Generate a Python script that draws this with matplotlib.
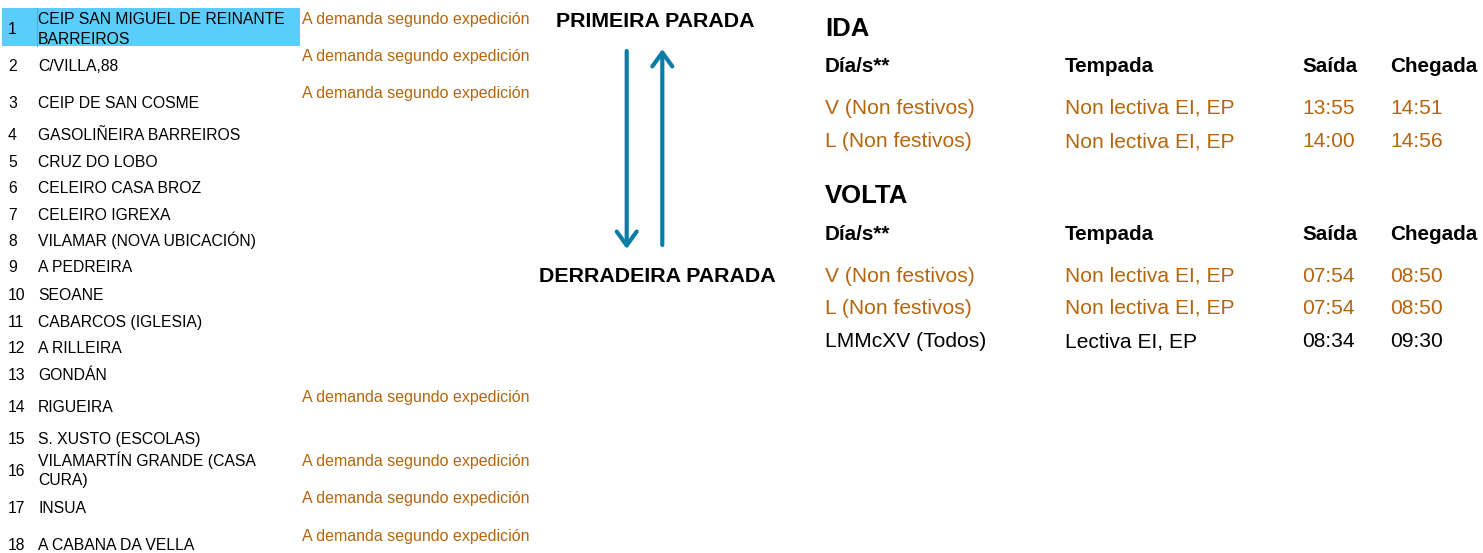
import matplotlib
matplotlib.use("Agg")
import matplotlib.pyplot as plt
from matplotlib.patches import Rectangle
from matplotlib.transforms import Bbox, TransformedBbox

plt.rcParams['font.family'] = ['Liberation Sans', 'DejaVu Sans']

# ---------------- data ----------------
stop_numbers = list(range(1, 19))
stop_names = [
    "CEIP SAN MIGUEL DE REINANTE\nBARREIROS",
    "C/VILLA,88",
    "CEIP DE SAN COSME",
    "GASOLIÑEIRA BARREIROS",
    "CRUZ DO LOBO",
    "CELEIRO CASA BROZ",
    "CELEIRO IGREXA",
    "VILAMAR (NOVA UBICACIÓN)",
    "A PEDREIRA",
    "SEOANE",
    "CABARCOS (IGLESIA)",
    "A RILLEIRA",
    "GONDÁN",
    "RIGUEIRA",
    "S. XUSTO (ESCOLAS)",
    "VILAMARTÍN GRANDE (CASA\nCURA)",
    "INSUA",
    "A CABANA DA VELLA",
]
note_text = "A demanda segundo expedición"
note_stops = [1, 2, 3, 14, 16, 17, 18]

first_stop_label = "PRIMEIRA PARADA"
last_stop_label = "DERRADEIRA PARADA"

header = ["Día/s**", "Tempada", "Saída", "Chegada"]

ida_days = ["V (Non festivos)", "L (Non festivos)"]
ida_season = ["Non lectiva EI, EP", "Non lectiva EI, EP"]
ida_dep = ["13:55", "14:00"]
ida_arr = ["14:51", "14:56"]
ida_ondemand = [True, True]

volta_days = ["V (Non festivos)", "L (Non festivos)", "LMMcXV (Todos)"]
volta_season = ["Non lectiva EI, EP", "Non lectiva EI, EP", "Lectiva EI, EP"]
volta_dep = ["07:54", "07:54", "08:34"]
volta_arr = ["08:50", "08:50", "09:30"]
volta_ondemand = [True, True, False]

# ---------------- layout / style ----------------
W, H = 1483, 553
ORANGE = "#B4660E"
BLUE = "#0A7DA6"
HILITE = "#5BCDFA"
BLACK = "#000000"

stop_baselines = [34.5, 71.4, 108.5, 139.5, 167, 193, 220, 246, 272, 300,
                  326.7, 353, 380, 412.2, 443.7, 476, 512.6, 550]
note_baselines = {1: 24, 2: 60.7, 3: 97.8, 14: 402, 16: 466, 17: 503, 18: 541}

fig = plt.figure(figsize=(W / 100, H / 100), dpi=100)
ax = fig.add_axes([0, 0, 1, 1])
ax.set_xlim(0, W)
ax.set_ylim(H, 0)
ax.axis("off")

# highlight for first stop
ax.add_patch(Rectangle((2, 8), 298, 38, facecolor=HILITE, edgecolor="none", zorder=0))
ax.plot([37, 37], [8, 46], color="#48B6E2", lw=0.8, zorder=0.5)

FS_STOP = 11.3
FS_NOTE = 11.5
for num, name, yb in zip(stop_numbers, stop_names, stop_baselines):
    ax.text(8, yb, str(num), fontsize=FS_STOP, va="baseline", ha="left", color=BLACK)
    lines = name.split("\n")
    if len(lines) == 1:
        ax.text(38, yb, lines[0], fontsize=FS_STOP, va="baseline", ha="left", color=BLACK)
    else:
        ax.text(38, yb - 10, lines[0], fontsize=FS_STOP, va="baseline", ha="left", color=BLACK)
        ax.text(38, yb + 9, lines[1], fontsize=FS_STOP, va="baseline", ha="left", color=BLACK)

for s in note_stops:
    ax.text(302, note_baselines[s], note_text, fontsize=FS_NOTE, va="baseline",
            ha="left", color=ORANGE)

# direction arrows
ax.text(655, 27.3, first_stop_label, fontsize=15.4, fontweight="bold",
        va="baseline", ha="center", color=BLACK)
t = ax.text(657, 281.7, last_stop_label, fontsize=15.4, fontweight="bold",
            va="baseline", ha="center", color=BLACK)
t.set_clip_box(TransformedBbox(Bbox([[538, 0], [W, H]]), ax.transData))
t.set_clip_on(True)

arrow_kw = dict(arrowstyle="->,head_length=1.0,head_width=0.72", color=BLUE,
                lw=3.0, shrinkA=0, shrinkB=0, mutation_scale=10)
ax.annotate("", xy=(626.7, 249), xytext=(626.7, 51), arrowprops=arrow_kw)
ax.annotate("", xy=(662.3, 49), xytext=(662.3, 245), arrowprops=arrow_kw)

# timetable
col_x = [825, 1065, 1302, 1390]
FS_TITLE = 18.5
FS_HEAD = 14.9
FS_ROW = 15.1


def draw_table(title, title_y, head_y, row_y, days, season, dep, arr, ondemand):
    ax.text(col_x[0], title_y, title, fontsize=FS_TITLE, fontweight="bold",
            va="baseline", ha="left", color=BLACK)
    for x, h in zip(col_x, header):
        ax.text(x, head_y, h, fontsize=FS_HEAD, fontweight="bold",
                va="baseline", ha="left", color=BLACK)
    for y, d, s, a, b, od in zip(row_y, days, season, dep, arr, ondemand):
        c = ORANGE if od else BLACK
        for x, v in zip(col_x, [d, s, a, b]):
            ax.text(x, y, v, fontsize=FS_ROW, va="baseline", ha="left", color=c)


draw_table("IDA", 36, 72, [114, 147], ida_days, ida_season, ida_dep, ida_arr, ida_ondemand)
draw_table("VOLTA", 203, 240, [282, 314, 347], volta_days, volta_season, volta_dep,
           volta_arr, volta_ondemand)

fig.savefig("out.png", dpi=100)
